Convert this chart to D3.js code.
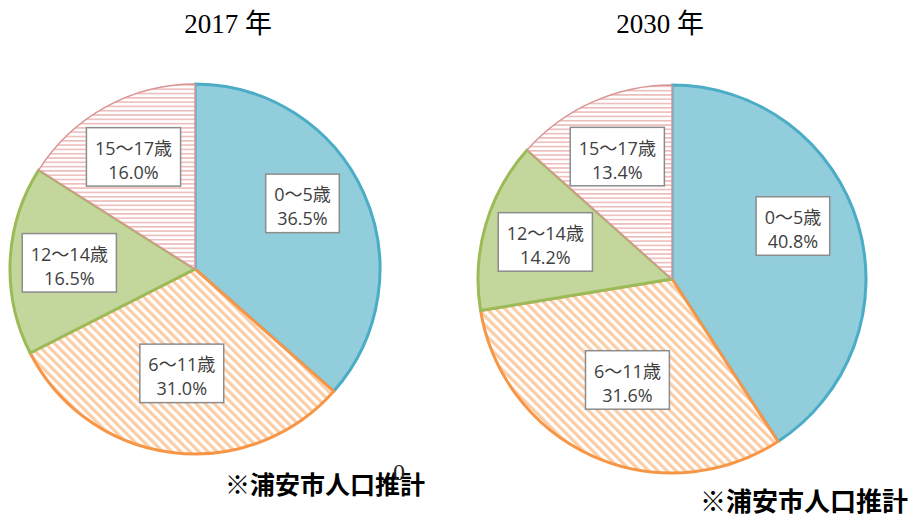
<!DOCTYPE html>
<html>
<head>
<meta charset="utf-8">
<script src="https://cdn.jsdelivr.net/npm/d3@7"></script>
<style>
  body { margin: 0; background: #fff; }
  .title { font-family: "Liberation Serif", "Noto Sans CJK JP", serif; font-size: 27px; fill: #000; }
  .lbl { font-family: "Open Sans", "Noto Sans CJK JP", sans-serif; font-size: 18px; fill: #404040; }
  .note { font-family: "Noto Sans CJK JP", sans-serif; font-weight: bold; fill: #000; }
</style>
</head>
<body>
<svg id="chart"></svg>
<script>
/// DATA ////////////////////////////////////////////////////////////////////////////////

var categories = ["0～5歳", "6～11歳", "12～14歳", "15～17歳"];
var values2017 = [36.5, 31.0, 16.5, 16.0];
var values2030 = [40.8, 31.6, 14.2, 13.4];
var years = ["2017 年", "2030 年"];
var noteText = "※浦安市人口推計";

/////////////////////////////////////////////////////////////////////////////////////////

var W = 910, H = 515;

var svg = d3.select("#chart").attr("width", W).attr("height", H);
svg.append("rect").attr("width", W).attr("height", H).attr("fill", "#fff");

// slice looks: fill (colour or pattern), border colour, border width
var fills = ["#92CDDC", "url(#diag)", "#C3D69B", "url(#horiz)"];
var strokes = ["#4BACC6", "#F79646", "#9BBB59", "#D99594"];
var strokeW = [3, 3, 3, 1.5];
// where the label box sits, as a share of the radius, and a small turn in degrees
var labelRadius = [0.68, 0.57, 0.68, 0.69];
var labelTurn = [-7, 0, 0, 0];

var defs = svg.append("defs");

// wide downward diagonal (orange)
var diag = defs.append("pattern")
    .attr("id", "diag")
    .attr("patternUnits", "userSpaceOnUse")
    .attr("width", 6.4).attr("height", 6.4)
    .attr("patternTransform", "rotate(-45)");
diag.append("rect").attr("width", 6.4).attr("height", 6.4).attr("fill", "#fff");
diag.append("rect").attr("width", 3.2).attr("height", 6.4).attr("fill", "#FBCDA6");

// narrow horizontal (pink)
var horiz = defs.append("pattern")
    .attr("id", "horiz")
    .attr("patternUnits", "userSpaceOnUse")
    .attr("width", 10).attr("height", 4.3);
horiz.append("rect").attr("width", 10).attr("height", 4.3).attr("fill", "#fff");
horiz.append("rect").attr("width", 10).attr("height", 1.6).attr("fill", "#EDBCBB");

var pie = d3.pie().sort(null).value(function (d) { return d; });

function drawPie(values, cx, cy, r) {
    var g = svg.append("g").attr("transform", "translate(" + cx + "," + cy + ")");
    var arc = d3.arc().innerRadius(0).outerRadius(r);
    var arcs = pie(values);

    g.selectAll("path")
        .data(arcs)
        .enter()
        .append("path")
            .attr("d", arc)
            .attr("fill", function (d, i) { return fills[i]; })
            .attr("stroke", function (d, i) { return strokes[i]; })
            .attr("stroke-width", function (d, i) { return strokeW[i]; })
            .attr("stroke-linejoin", "round");

    // data labels in white boxes
    arcs.forEach(function (d, i) {
        var turn = labelTurn[i] * Math.PI / 180;
        var lr = r * labelRadius[i];
        var c = d3.arc().innerRadius(lr).outerRadius(lr)
            .centroid({ startAngle: d.startAngle + turn, endAngle: d.endAngle + turn });

        var lg = g.append("g").attr("transform", "translate(" + c[0] + "," + c[1] + ")");
        var box = lg.append("rect");
        var t1 = lg.append("text").attr("class", "lbl").attr("text-anchor", "middle")
            .attr("y", -2.3).text(categories[i]);
        var t2 = lg.append("text").attr("class", "lbl").attr("text-anchor", "middle")
            .attr("y", 21.7).text(values[i].toFixed(1) + "%");
        var tw = Math.max(t1.node().getComputedTextLength(), t2.node().getComputedTextLength());
        var bw = tw + 17;
        box.attr("x", -bw / 2).attr("y", -29.5)
            .attr("width", bw).attr("height", 58.5)
            .attr("fill", "#fff")
            .attr("stroke", "#8C8C8C")
            .attr("stroke-width", 1.5);
    });
}

drawPie(values2017, 195, 269, 185);
drawPie(values2030, 672, 279, 194);

// titles
svg.append("text").attr("class", "title").attr("x", 228).attr("y", 33)
    .attr("text-anchor", "middle").text(years[0]);
svg.append("text").attr("class", "title").attr("x", 660).attr("y", 33)
    .attr("text-anchor", "middle").text(years[1]);

// notes
svg.append("text").attr("class", "note").attr("x", 225).attr("y", 494)
    .style("font-size", "25px").text(noteText);
svg.append("text").attr("class", "note").attr("x", 700).attr("y", 511)
    .style("font-size", "26px").text(noteText);

// stray zero left over in the source picture
svg.append("text").attr("x", 399).attr("y", 480)
    .attr("text-anchor", "middle")
    .style("font-family", "Liberation Serif, serif")
    .style("font-size", "24px")
    .attr("fill", "#222")
    .text("0");
</script>
</body>
</html>
